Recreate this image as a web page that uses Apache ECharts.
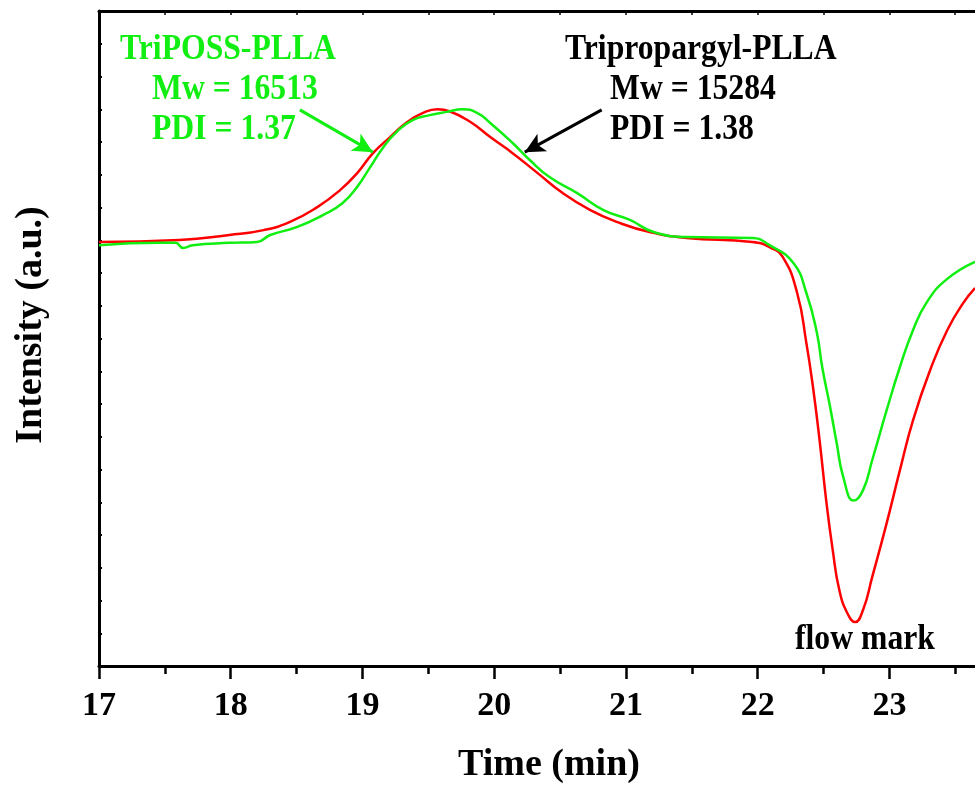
<!DOCTYPE html>
<html>
<head>
<meta charset="utf-8">
<script src="https://cdn.jsdelivr.net/npm/echarts@6/dist/echarts.min.js"></script>
<style>
html,body{margin:0;padding:0;background:#fff;}
#chart{width:975px;height:790px;}
</style>
</head>
<body>
<div id="chart"></div>
<script>
// data
var redTime = [17.00,17.61,17.99,18.25,18.45,18.66,18.83,18.96,19.08,19.21,19.34,19.46,19.57,19.66,19.82,19.97,20.14,20.33,20.52,20.73,20.93,21.18,21.46,21.96,22.09,22.19,22.30,22.37,22.42,22.47,22.52,22.57,22.62,22.68,22.74,22.80,22.87,22.98,23.08,23.18,23.31,23.44,23.56,23.65];
var redValue = [12.95,13.01,13.16,13.31,13.56,14.02,14.53,15.05,15.66,16.15,16.61,16.89,17.00,16.94,16.61,16.15,15.66,15.05,14.44,13.92,13.56,13.25,13.07,12.95,12.79,12.49,11.39,9.86,8.52,6.90,5.07,3.54,2.32,1.62,1.34,1.71,2.72,4.37,5.98,7.51,9.04,10.26,11.08,11.54];
var greenTime = [17.00,17.46,17.58,17.64,17.71,17.99,18.20,18.30,18.50,18.70,18.85,18.96,19.06,19.16,19.26,19.38,19.51,19.64,19.76,19.87,19.97,20.14,20.27,20.42,20.63,20.83,21.03,21.21,21.46,21.96,22.09,22.27,22.37,22.45,22.49,22.55,22.60,22.65,22.73,22.80,22.87,22.98,23.08,23.18,23.28,23.43,23.65];
var greenValue = [12.85,12.92,12.92,12.76,12.85,12.92,12.95,13.16,13.40,13.77,14.14,14.63,15.24,15.85,16.31,16.67,16.82,16.92,17.00,16.89,16.58,15.97,15.45,14.93,14.44,13.92,13.62,13.25,13.10,13.07,12.85,12.31,11.39,10.17,9.13,7.91,6.81,5.77,5.05,5.37,6.29,7.82,9.13,10.26,11.08,11.79,12.34];
var xTicks = [17,18,19,20,21,22,23];
var xMinorTicks = [17.5,18.5,19.5,20.5,21.5,22.5,23.5];
var xTopTicks = [17,17.5,18,18.5,19,19.5,20,20.5,21,21.5,22,22.5,23,23.5];

var RED = '#ff0000', GREEN = '#11ee11';
var FONT = '"Liberation Serif","Times New Roman",serif';
var X_MIN = 17, X_MAX = 23.65;

function pairs(t, v){
	var out = [];
	for(var i=0;i<t.length;i++){ out.push([t[i], v[i]]); }
	return out;
}

var myChart = echarts.init(document.getElementById('chart'));
var option = {
	animation:false,
	backgroundColor:'#fff',
	grid:{left:99, top:11, right:0, bottom:124},
	xAxis:[
		{
			type:'value', position:'bottom', min:X_MIN, max:X_MAX,
			axisLine:{lineStyle:{color:'#000', width:3}},
			axisTick:{customValues:xTicks, length:13, lineStyle:{color:'#000', width:2.5}},
			axisLabel:{customValues:xTicks, margin:23, color:'#000', fontSize:34, fontWeight:'bold', fontFamily:FONT},
			splitLine:{show:false}
		},
		{
			type:'value', position:'bottom', min:X_MIN, max:X_MAX,
			axisLine:{show:false},
			axisTick:{customValues:xMinorTicks, length:8, lineStyle:{color:'#000', width:2.5}},
			axisLabel:{show:false}, splitLine:{show:false}
		},
		{
			type:'value', position:'top', min:X_MIN, max:X_MAX,
			axisLine:{lineStyle:{color:'#000', width:3}},
			axisTick:{customValues:xTopTicks, inside:true, length:4, lineStyle:{color:'#000', width:1.5}},
			axisLabel:{show:false}, splitLine:{show:false}
		}
	],
	yAxis:{
		type:'value', min:0, max:20, interval:1,
		axisLine:{show:true, lineStyle:{color:'#000', width:3}},
		axisTick:{show:true, inside:true, length:3, lineStyle:{color:'#000', width:2}},
		axisLabel:{show:false}, splitLine:{show:false}
	},
	series:[
		{
			name:'Tripropargyl-PLLA', type:'line', smooth:true, symbol:'none',
			lineStyle:{color:RED, width:2.5},
			data:pairs(redTime, redValue),
			markLine:{
				silent:true, symbol:['none','arrow'], symbolSize:[15,20],
				label:{show:false},
				lineStyle:{color:'#000', width:3, type:'solid'},
				data:[[{coord:[20.816,16.98]},{coord:[20.232,15.69]}]]
			}
		},
		{
			name:'TriPOSS-PLLA', type:'line', smooth:true, symbol:'none',
			lineStyle:{color:GREEN, width:2.5},
			data:pairs(greenTime, greenValue),
			markLine:{
				silent:true, symbol:['none','arrow'], symbolSize:[15,20],
				label:{show:false},
				lineStyle:{color:GREEN, width:3, type:'solid'},
				data:[[{coord:[18.525,16.98]},{coord:[19.079,15.69]}]]
			}
		}
	],
	graphic:[
		{type:'text', x:120, y:32, scaleX:0.88, style:{text:'TriPOSS-PLLA', font:'bold 36px '+FONT, fill:GREEN}},
		{type:'text', x:152, y:72, scaleX:0.88, style:{text:'Mw = 16513', font:'bold 36px '+FONT, fill:GREEN}},
		{type:'text', x:152, y:112, scaleX:0.88, style:{text:'PDI = 1.37', font:'bold 36px '+FONT, fill:GREEN}},
		{type:'text', x:565, y:32, scaleX:0.88, style:{text:'Tripropargyl-PLLA', font:'bold 36px '+FONT, fill:'#000'}},
		{type:'text', x:610, y:72, scaleX:0.88, style:{text:'Mw = 15284', font:'bold 36px '+FONT, fill:'#000'}},
		{type:'text', x:610, y:112, scaleX:0.88, style:{text:'PDI = 1.38', font:'bold 36px '+FONT, fill:'#000'}},
		{type:'text', x:795, y:622, scaleX:0.88, style:{text:'flow mark', font:'bold 36px '+FONT, fill:'#000'}},
		{type:'text', x:549, y:765, style:{text:'Time (min)', font:'bold 38px '+FONT, fill:'#000', align:'center', verticalAlign:'middle'}},
		{type:'text', x:31, y:325, rotation:Math.PI/2, style:{text:'Intensity (a.u.)', font:'bold 38px '+FONT, fill:'#000', align:'center', verticalAlign:'middle'}}
	]
};
myChart.setOption(option);
</script>
</body>
</html>
